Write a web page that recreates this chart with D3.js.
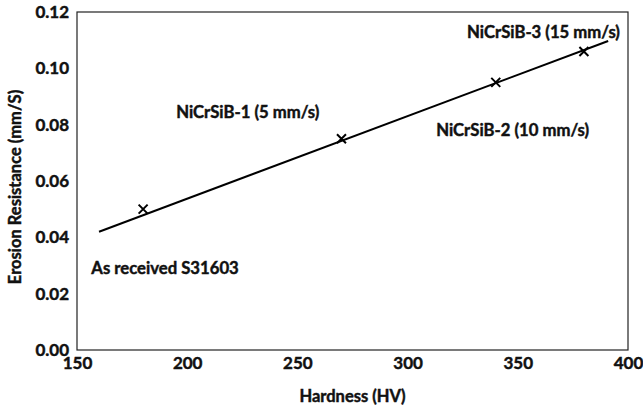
<!DOCTYPE html>
<html>
<head>
<meta charset="utf-8">
<script src="https://cdn.jsdelivr.net/npm/d3@7/dist/d3.min.js"></script>
<style>
  html, body { margin: 0; padding: 0; background: #fff; }
  svg { display: block; }
  text { font-family: Lato, "Open Sans", sans-serif; font-weight: bold; fill: #111; stroke: #111; stroke-width: 0.45px; }
</style>
</head>
<body>
<svg id="chart" width="643" height="408"></svg>
<script>
// Measured samples: hardness (HV) vs erosion resistance (mm/s)
const hardness = [180, 270, 340, 380];
const erosion = [0.050, 0.075, 0.095, 0.106];

// Linear trend line drawn across the samples
const trendHardness = [160, 391];
const trendErosion = [0.042, 0.1097];

// Sample annotations with their anchor in data units
const sampleLabels = ["As received S31603", "NiCrSiB-1 (5 mm/s)", "NiCrSiB-2 (10 mm/s)", "NiCrSiB-3 (15 mm/s)"];
const labelHardness = [156.5, 195, 313, 327];
const labelErosion = [0.0292, 0.0843, 0.0780, 0.1128];

const xTicks = [150, 200, 250, 300, 350, 400];
const yTicks = [0, 0.02, 0.04, 0.06, 0.08, 0.10, 0.12];

const svg = d3.select("#chart");
const margin = { left: 77, right: 15, top: 12, bottom: 58 };
const W = 643, H = 408;

const x = d3.scaleLinear().domain([150, 400]).range([margin.left, W - margin.right]);
const y = d3.scaleLinear().domain([0, 0.12]).range([H - margin.bottom, margin.top]);

// Plot frame
svg.append("rect")
  .attr("x", x(150)).attr("y", y(0.12))
  .attr("width", x(400) - x(150)).attr("height", y(0) - y(0.12))
  .attr("fill", "none").attr("stroke", "#222").attr("stroke-width", 1.2);

// Axes (labels only, no tick marks)
const xAxis = svg.append("g")
  .attr("transform", `translate(0,${y(0)})`)
  .call(d3.axisBottom(x).tickValues(xTicks).tickSize(0).tickPadding(7).tickFormat(d3.format("d")));
xAxis.select(".domain").remove();
xAxis.selectAll("text").attr("font-size", 17).attr("font-family", null).attr("dy", "0.71em");

const yAxis = svg.append("g")
  .attr("transform", `translate(${x(150)},0)`)
  .call(d3.axisLeft(y).tickValues(yTicks).tickSize(0).tickPadding(8).tickFormat(d3.format(".2f")));
yAxis.select(".domain").remove();
yAxis.selectAll("text").attr("font-size", 17).attr("font-family", null);

// Axis titles
svg.append("text")
  .attr("x", (x(150) + x(400)) / 2)
  .attr("y", 402)
  .attr("text-anchor", "middle")
  .attr("font-size", 16.5)
  .text("Hardness (HV)");

svg.append("text")
  .attr("transform", `translate(21,${(y(0) + y(0.12)) / 2 + 6}) rotate(-90)`)
  .attr("text-anchor", "middle")
  .attr("font-size", 16.5)
  .text("Erosion Resistance (mm/S)");

// Trend line
const line = d3.line().x(d => x(d[0])).y(d => y(d[1]));
svg.append("path")
  .datum(d3.zip(trendHardness, trendErosion))
  .attr("d", line)
  .attr("fill", "none")
  .attr("stroke", "#000")
  .attr("stroke-width", 2);

// Cross markers
const s = 4.5;
svg.append("g").selectAll("path")
  .data(d3.zip(hardness, erosion))
  .join("path")
  .attr("d", d => {
    const cx = x(d[0]), cy = y(d[1]);
    return `M${cx - s},${cy - s}L${cx + s},${cy + s}M${cx - s},${cy + s}L${cx + s},${cy - s}`;
  })
  .attr("stroke", "#000")
  .attr("stroke-width", 2)
  .attr("fill", "none");

// Sample labels
svg.append("g").selectAll("text")
  .data(sampleLabels)
  .join("text")
  .attr("x", (d, i) => x(labelHardness[i]))
  .attr("y", (d, i) => y(labelErosion[i]))
  .attr("dy", "0.35em")
  .attr("font-size", 16.7)
  .text(d => d);
</script>
</body>
</html>
